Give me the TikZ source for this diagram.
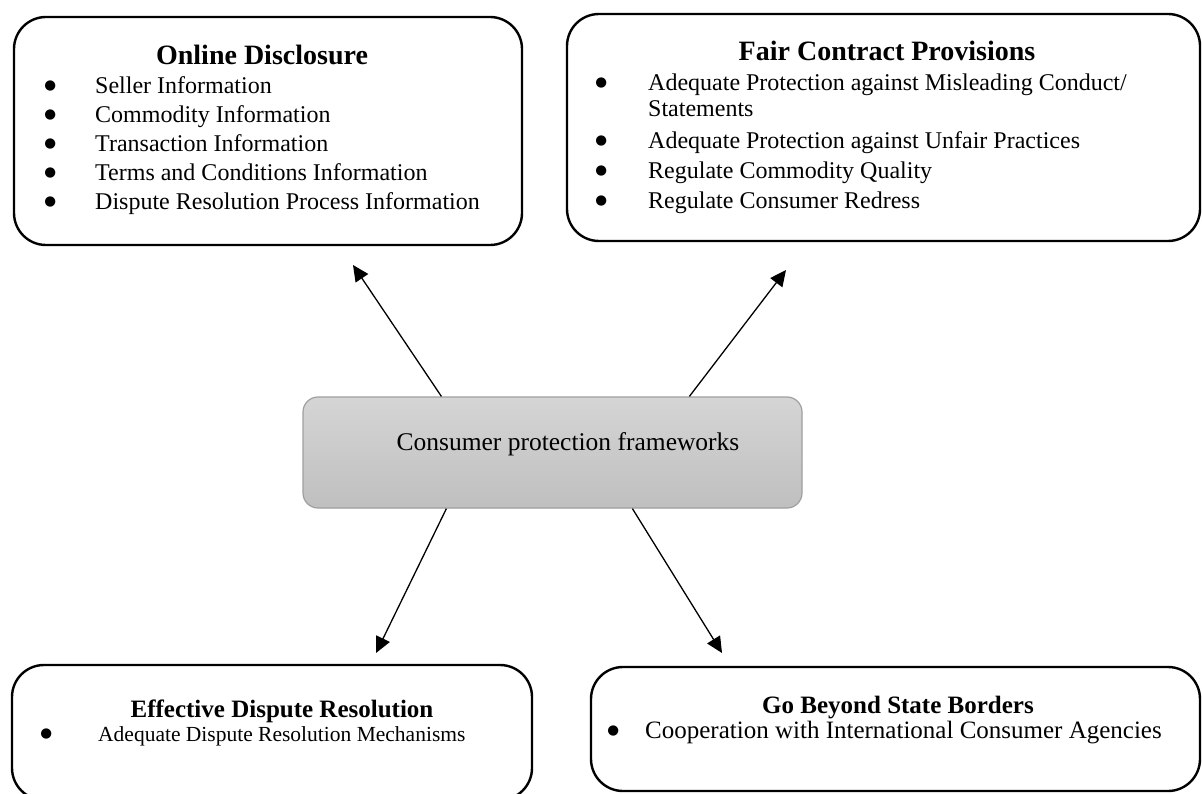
\documentclass[tikz,border=0pt]{standalone}
\usepackage{fontspec}
\setmainfont{Liberation Serif}
\newfontfamily\dotfont{DejaVu Sans}
\usetikzlibrary{arrows.meta}
\newcommand{\bul}[1]{\llap{\raisebox{4pt}{\dotfont\fontsize{13.5}{14}\selectfont ●}\hspace{#1pt}}}

\begin{document}
\begin{tikzpicture}[x=1pt,y=-1pt]
   \useasboundingbox (0,0) rectangle (1202,794);
   % outer panels
   \begin{scope}[every node/.style={draw=black,line width=2.4pt,rounded corners=32pt,inner sep=0pt}]
    \node[minimum width=508pt,minimum height=228pt] (disc) at (268,131) {};
    \node[minimum width=633pt,minimum height=227pt] (fair) at (883.5,127.5) {};
    \node[minimum width=520pt,minimum height=135pt] (resol) at (272,732.5) {};
    \node[minimum width=609pt,minimum height=124pt] (border) at (895.5,729) {};
   \end{scope}
   % centre box
   \node[draw=gray!75,line width=1.2pt,rounded corners=15pt,top color=gray!33,bottom color=gray!50,
         minimum width=499pt,minimum height=111pt] (hub) at (552.5,452.5) {};
   \node[anchor=base,inner sep=0pt,font=\fontsize{25.5}{28}\selectfont] (hubtext) at (568,450) {Consumer protection frameworks};
   % headings
   \begin{scope}[every node/.style={anchor=base,inner sep=0pt,font=\fontsize{28}{30}\selectfont\bfseries}]
    \node (disch) at (262,65) {Online Disclosure};
    \node (fairh) at (887,61) {Fair Contract Provisions};
    \node[font=\fontsize{25}{27}\selectfont\bfseries] (resolh) at (282,717) {Effective Dispute Resolution};
    \node[font=\fontsize{25}{27}\selectfont\bfseries] (borderh) at (898,713) {Go Beyond State Borders};
   \end{scope}
   % bullet lines
   \begin{scope}[every node/.style={anchor=base west,inner sep=0pt,font=\fontsize{24}{24}\selectfont}]
    \node (d1) at (95,94) {\bul{39}Seller Information};
    \node (d2) at (95,123) {\bul{39}Commodity Information};
    \node (d3) at (95,152) {\bul{39}Transaction Information};
    \node (d4) at (95,181) {\bul{39}Terms and Conditions Information};
    \node (d5) at (95,210) {\bul{39}Dispute Resolution Process Information};
    \node (f1) at (648,91) {\bul{41}Adequate Protection against Misleading Conduct/};
    \node (f2) at (648,117) {Statements};
    \node (f3) at (648,149) {\bul{41}Adequate Protection against Unfair Practices};
    \node (f4) at (648,179) {\bul{41}Regulate Commodity Quality};
    \node (f5) at (648,209) {\bul{41}Regulate Consumer Redress};
    \node[font=\fontsize{21.5}{22}\selectfont] (r1) at (98,741) {\bul{46}Adequate Dispute Resolution Mechanisms};
    \node[font=\fontsize{25}{25}\selectfont] (b1) at (645,738) {\bul{26}Cooperation with International Consumer Agencies};
   \end{scope}
   % arrow ends
   \coordinate (t1) at (353,265);
   \coordinate (t2) at (786,270);
   \coordinate (t3) at (376,653);
   \coordinate (t4) at (722,653);
   \begin{scope}[line width=1.3pt,-{Triangle[length=16pt,width=15pt]}]
    \draw ([xshift=139pt]hub.north west) -- (t1);
    \draw ([xshift=387pt]hub.north west) -- (t2);
    \draw ([xshift=144pt]hub.south west) -- (t3);
    \draw ([xshift=330pt]hub.south west) -- (t4);
   \end{scope}
\end{tikzpicture}
\end{document}
